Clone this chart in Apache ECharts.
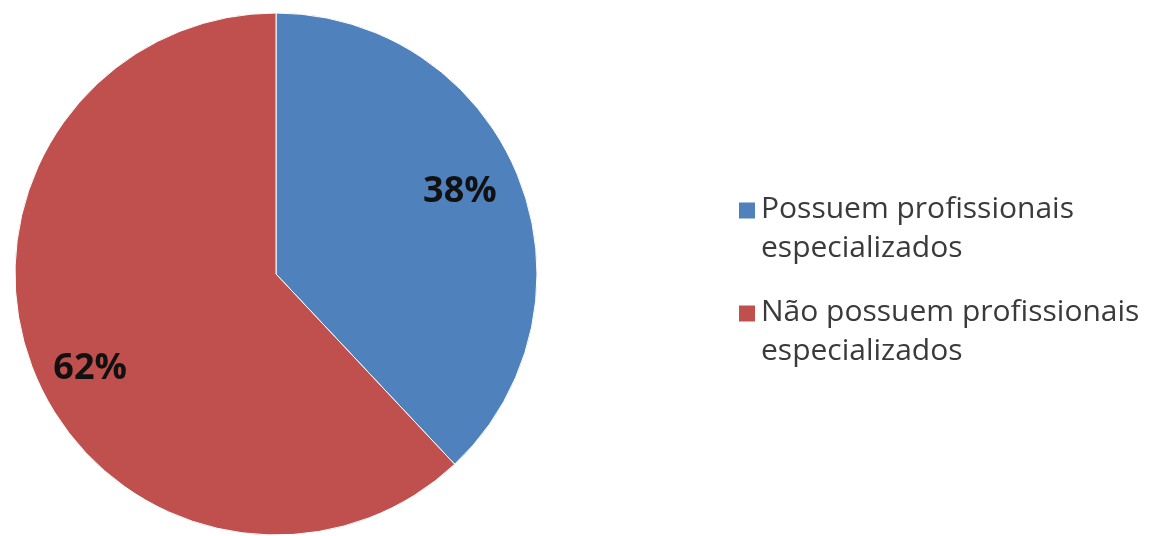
<!DOCTYPE html>
<html>
<head>
<meta charset="utf-8">
<script src="https://cdn.jsdelivr.net/npm/echarts@6/dist/echarts.min.js"></script>
<style>
html,body{margin:0;padding:0;background:#fff;}
#chart{width:1155px;height:536px;}
</style>
</head>
<body>
<div id="chart"></div>
<script>
const categories = ['Possuem profissionais\nespecializados', 'Não possuem profissionais\nespecializados'];
const values = [38, 62];
const colors = ['#4F81BD', '#C0504D'];

const chart = echarts.init(document.getElementById('chart'), null, {renderer: 'canvas'});
const mainData = categories.map((c, i) => ({name: c, value: values[i], itemStyle: {color: colors[i]}}));
const labelData = categories.map((c, i) => ({name: c, value: values[i]}));

chart.setOption({
  animation: false,
  backgroundColor: '#ffffff',
  legend: {
    orient: 'vertical',
    left: 737,
    top: 190,
    padding: 0,
    itemGap: 25,
    itemWidth: 18,
    itemHeight: 55,
    icon: 'path://M0,0L18,0L18,18L0,18Z M0,55',
    data: categories,
    textStyle: {
      fontFamily: 'Open Sans',
      fontSize: 30,
      lineHeight: 39,
      color: '#3a3a3a'
    }
  },
  series: [
    {
      type: 'pie',
      center: [276, 274],
      radius: [0, 261],
      startAngle: 90,
      clockwise: true,
      silent: true,
      label: {show: false},
      labelLine: {show: false},
      itemStyle: {borderColor: '#ffffff', borderWidth: 1},
      data: mainData
    },
    {
      type: 'pie',
      center: [275, 280],
      radius: [142, 262],
      startAngle: 94,
      clockwise: true,
      silent: true,
      itemStyle: {color: 'rgba(0,0,0,0)'},
      labelLine: {show: false},
      label: {
        show: true,
        position: 'inside',
        formatter: p => p.value + '%',
        fontFamily: 'Open Sans',
        fontWeight: 'bold',
        fontSize: 36,
        color: '#111111'
      },
      data: labelData
    }
  ]
});
</script>
</body>
</html>
